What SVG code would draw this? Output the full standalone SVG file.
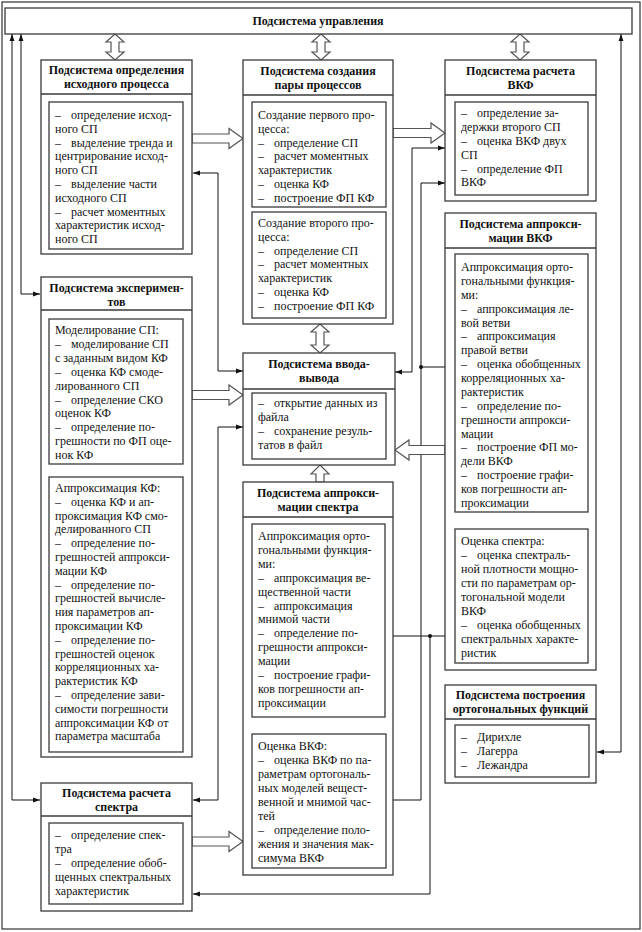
<svg xmlns="http://www.w3.org/2000/svg" width="642" height="932" viewBox="0 0 642 932">
<style>
.bg{fill:#fff}
.frame{fill:none;stroke:#333;stroke-width:1.2}
.box{fill:#fff;stroke:#3a3a3a;stroke-width:1.3}
.div{stroke:#3a3a3a;stroke-width:1.3}
.t{font-family:"Liberation Serif","Times New Roman",serif;font-size:12px;fill:#111}
.h{font-weight:bold;text-anchor:middle}
.ln{fill:none;stroke:#111;stroke-width:1}
.ha{fill:#fff;stroke:#555;stroke-width:1.2}
</style>
<defs>
<marker id="a" viewBox="0 0 10 10" refX="10" refY="5" markerWidth="8" markerHeight="7" markerUnits="userSpaceOnUse" orient="auto-start-reverse"><path d="M0,1.5 L10,5 L0,8.5 z" fill="#111"/></marker>
</defs>
<rect class="bg" x="0" y="0" width="642" height="932"/>
<rect class="frame" x="2" y="2" width="638" height="927"/>

<g id="connectors">
<polyline class="ln" points="40,800 12,800 12,34" marker-start="url(#a)" marker-end="url(#a)"/>
<polyline class="ln" points="40,294 21,294 21,34" marker-start="url(#a)" marker-end="url(#a)"/>
<polyline class="ln" points="597,752 621,752 621,34" marker-start="url(#a)" marker-end="url(#a)"/>
<polyline class="ln" points="193,173 218,173 218,371 243,371" marker-start="url(#a)" marker-end="url(#a)"/>
<polyline class="ln" points="243,427 218,427 218,800 193,800" marker-start="url(#a)" marker-end="url(#a)"/>
<polyline class="ln" points="445,148 412,148 412,372 395,372" marker-start="url(#a)" marker-end="url(#a)"/>
<polyline class="ln" points="386,800 421,800 421,183 445,183" marker-end="url(#a)"/>
<polyline class="ln" points="421,367 454,367" marker-end="url(#a)"/>
<circle cx="421" cy="367" r="2" fill="#111"/>
<polyline class="ln" points="455,636 386,636" marker-end="url(#a)"/>
<polyline class="ln" points="430,636 430,894 193,894" marker-end="url(#a)"/>
<circle cx="430" cy="636" r="2" fill="#111"/>
<polyline class="ln" points="520,512 520,529" marker-end="url(#a)"/>
<polyline class="ln" points="318,717 318,734" marker-end="url(#a)"/>
<polygon class="ha" points="192,134 229,134 229,128.5 243,138.5 229,148.5 229,143 192,143"/>
<polygon class="ha" points="393,128.5 431,128.5 431,123 445,133 431,143 431,137.5 393,137.5"/>
<polygon class="ha" points="192,390.5 229,390.5 229,385 243,395 229,405 229,399.5 192,399.5"/>
<polygon class="ha" points="192,837 229,837 229,831.5 243,841.5 229,851.5 229,846 192,846"/>
<polygon class="ha" points="445,445.5 409,445.5 409,440 395,450 409,460 409,454.5 445,454.5"/>
<polygon class="ha" points="115,34 124,42 119,42 119,52 124,52 115,60 106,52 111,52 111,42 106,42"/>
<polygon class="ha" points="321,34 330,42 325,42 325,52 330,52 321,60 312,52 317,52 317,42 312,42"/>
<polygon class="ha" points="520,34 529,42 524,42 524,52 529,52 520,60 511,52 516,52 516,42 511,42"/>
<polygon class="ha" points="320,324 329,332 324,332 324,345 329,345 320,353 311,345 316,345 316,332 311,332"/>
<polygon class="ha" points="320,465 329,474 324,474 324,482 316,482 316,474 311,474"/>
</g>

<g id="n0">
<rect class="box" x="5" y="8" width="627" height="26"/>
<text class="t h" x="318" y="25">Подсистема управления</text>
</g>

<g id="n1">
<rect class="box" x="41" y="60" width="151" height="194"/>
<line class="div" x1="41" y1="94" x2="192" y2="94"/>
<text class="t h" x="116.5" y="74">Подсистема определения</text>
<text class="t h" x="116.5" y="88">исходного процесса</text>
<rect class="box" x="49" y="102" width="134" height="147"/>
<text class="t" y="119"><tspan x="55">–</tspan><tspan x="71">определение исход-</tspan></text>
<text class="t" x="55" y="132.8">ного СП</text>
<text class="t" y="146.6"><tspan x="55">–</tspan><tspan x="71">выделение тренда и</tspan></text>
<text class="t" x="55" y="160.4">центрирование исход-</text>
<text class="t" x="55" y="174.2">ного СП</text>
<text class="t" y="188"><tspan x="55">–</tspan><tspan x="71">выделение части</tspan></text>
<text class="t" x="55" y="201.8">исходного СП</text>
<text class="t" y="215.6"><tspan x="55">–</tspan><tspan x="71">расчет моментных</tspan></text>
<text class="t" x="55" y="229.4">характеристик исход-</text>
<text class="t" x="55" y="243.2">ного СП</text>
</g>

<g id="n2">
<rect class="box" x="243" y="60" width="150" height="264"/>
<line class="div" x1="243" y1="95" x2="393" y2="95"/>
<text class="t h" x="318" y="75">Подсистема создания</text>
<text class="t h" x="318" y="89">пары процессов</text>
<rect class="box" x="252" y="102" width="134" height="105"/>
<text class="t" x="258" y="119">Создание первого про-</text>
<text class="t" x="258" y="132.8">цесса:</text>
<text class="t" y="146.6"><tspan x="258">–</tspan><tspan x="274">определение СП</tspan></text>
<text class="t" y="160.4"><tspan x="258">–</tspan><tspan x="274">расчет моментных</tspan></text>
<text class="t" x="258" y="174.2">характеристик</text>
<text class="t" y="188"><tspan x="258">–</tspan><tspan x="274">оценка КФ</tspan></text>
<text class="t" y="201.8"><tspan x="258">–</tspan><tspan x="274">построение ФП КФ</tspan></text>
<rect class="box" x="252" y="212" width="134" height="106"/>
<text class="t" x="258" y="227">Создание второго про-</text>
<text class="t" x="258" y="240.8">цесса:</text>
<text class="t" y="254.6"><tspan x="258">–</tspan><tspan x="274">определение СП</tspan></text>
<text class="t" y="268.4"><tspan x="258">–</tspan><tspan x="274">расчет моментных</tspan></text>
<text class="t" x="258" y="282.2">характеристик</text>
<text class="t" y="296"><tspan x="258">–</tspan><tspan x="274">оценка КФ</tspan></text>
<text class="t" y="309.8"><tspan x="258">–</tspan><tspan x="274">построение ФП КФ</tspan></text>
</g>

<g id="n3">
<rect class="box" x="445" y="60" width="151" height="141"/>
<line class="div" x1="445" y1="95" x2="596" y2="95"/>
<text class="t h" x="520.5" y="75">Подсистема расчета</text>
<text class="t h" x="520.5" y="89">ВКФ</text>
<rect class="box" x="455" y="102" width="133" height="93"/>
<text class="t" y="117"><tspan x="461">–</tspan><tspan x="477">определение за-</tspan></text>
<text class="t" x="461" y="131">держки второго СП</text>
<text class="t" y="145"><tspan x="461">–</tspan><tspan x="477">оценка ВКФ двух</tspan></text>
<text class="t" x="461" y="159">СП</text>
<text class="t" y="172.5"><tspan x="461">–</tspan><tspan x="477">определение ФП</tspan></text>
<text class="t" x="461" y="186">ВКФ</text>
</g>

<g id="n4">
<rect class="box" x="445" y="213" width="151" height="457"/>
<line class="div" x1="445" y1="248" x2="596" y2="248"/>
<text class="t h" x="520.5" y="228">Подсистема аппрокси-</text>
<text class="t h" x="520.5" y="242">мации ВКФ</text>
<rect class="box" x="455" y="254" width="133" height="258"/>
<text class="t" x="461" y="271">Аппроксимация орто-</text>
<text class="t" x="461" y="284.9">гональными функция-</text>
<text class="t" x="461" y="298.8">ми:</text>
<text class="t" y="312.6"><tspan x="461">–</tspan><tspan x="477">аппроксимация ле-</tspan></text>
<text class="t" x="461" y="326.5">вой ветви</text>
<text class="t" y="340.4"><tspan x="461">–</tspan><tspan x="477">аппроксимация</tspan></text>
<text class="t" x="461" y="354.3">правой ветви</text>
<text class="t" y="368.2"><tspan x="461">–</tspan><tspan x="477">оценка обобщенных</tspan></text>
<text class="t" x="461" y="382">корреляционных ха-</text>
<text class="t" x="461" y="395.9">рактеристик</text>
<text class="t" y="409.8"><tspan x="461">–</tspan><tspan x="477">определение по-</tspan></text>
<text class="t" x="461" y="423.7">грешности аппрокси-</text>
<text class="t" x="461" y="437.6">мации</text>
<text class="t" y="451.4"><tspan x="461">–</tspan><tspan x="477">построение ФП мо-</tspan></text>
<text class="t" x="461" y="465.3">дели ВКФ</text>
<text class="t" y="479.2"><tspan x="461">–</tspan><tspan x="477">построение графи-</tspan></text>
<text class="t" x="461" y="493.1">ков погрешности ап-</text>
<text class="t" x="461" y="507">проксимации</text>
<rect class="box" x="455" y="529" width="133" height="134"/>
<text class="t" x="461" y="545">Оценка спектра:</text>
<text class="t" y="559"><tspan x="461">–</tspan><tspan x="477">оценка спектраль-</tspan></text>
<text class="t" x="461" y="573">ной плотности мощно-</text>
<text class="t" x="461" y="587">сти по параметрам ор-</text>
<text class="t" x="461" y="601">тогональной модели</text>
<text class="t" x="461" y="615">ВКФ</text>
<text class="t" y="629"><tspan x="461">–</tspan><tspan x="477">оценка обобщенных</tspan></text>
<text class="t" x="461" y="643">спектральных характе-</text>
<text class="t" x="461" y="657">ристик</text>
</g>

<g id="n5">
<rect class="box" x="445" y="685" width="151" height="98"/>
<line class="div" x1="445" y1="719" x2="596" y2="719"/>
<text class="t h" x="520.5" y="699">Подсистема построения</text>
<text class="t h" x="520.5" y="713">ортогональных функций</text>
<rect class="box" x="455" y="725" width="134" height="52"/>
<text class="t" y="741"><tspan x="461">–</tspan><tspan x="477">Дирихле</tspan></text>
<text class="t" y="755"><tspan x="461">–</tspan><tspan x="477">Лагерра</tspan></text>
<text class="t" y="769"><tspan x="461">–</tspan><tspan x="477">Лежандра</tspan></text>
</g>

<g id="n6">
<rect class="box" x="41" y="277" width="151" height="480"/>
<line class="div" x1="41" y1="310" x2="192" y2="310"/>
<text class="t h" x="116.5" y="292">Подсистема эксперимен-</text>
<text class="t h" x="116.5" y="306">тов</text>
<rect class="box" x="49" y="319" width="134" height="145"/>
<text class="t" x="55" y="334">Моделирование СП:</text>
<text class="t" y="347.9"><tspan x="55">–</tspan><tspan x="71">моделирование СП</tspan></text>
<text class="t" x="55" y="361.8">с заданным видом КФ</text>
<text class="t" y="375.7"><tspan x="55">–</tspan><tspan x="71">оценка КФ смоде-</tspan></text>
<text class="t" x="55" y="389.6">лированного СП</text>
<text class="t" y="403.5"><tspan x="55">–</tspan><tspan x="71">определение СКО</tspan></text>
<text class="t" x="55" y="417.4">оценок КФ</text>
<text class="t" y="431.3"><tspan x="55">–</tspan><tspan x="71">определение по-</tspan></text>
<text class="t" x="55" y="445.2">грешности по ФП оце-</text>
<text class="t" x="55" y="459.1">нок КФ</text>
<rect class="box" x="49" y="477" width="134" height="275"/>
<text class="t" x="55" y="492">Аппроксимация КФ:</text>
<text class="t" y="505.8"><tspan x="55">–</tspan><tspan x="71">оценка КФ и ап-</tspan></text>
<text class="t" x="55" y="519.6">проксимация КФ смо-</text>
<text class="t" x="55" y="533.4">делированного СП</text>
<text class="t" y="547.2"><tspan x="55">–</tspan><tspan x="71">определение по-</tspan></text>
<text class="t" x="55" y="561">грешностей аппрокси-</text>
<text class="t" x="55" y="574.8">мации КФ</text>
<text class="t" y="588.6"><tspan x="55">–</tspan><tspan x="71">определение по-</tspan></text>
<text class="t" x="55" y="602.4">грешностей вычисле-</text>
<text class="t" x="55" y="616.2">ния параметров ап-</text>
<text class="t" x="55" y="630">проксимации КФ</text>
<text class="t" y="643.8"><tspan x="55">–</tspan><tspan x="71">определение по-</tspan></text>
<text class="t" x="55" y="657.6">грешностей оценок</text>
<text class="t" x="55" y="671.4">корреляционных ха-</text>
<text class="t" x="55" y="685.2">рактеристик КФ</text>
<text class="t" y="699"><tspan x="55">–</tspan><tspan x="71">определение зави-</tspan></text>
<text class="t" x="55" y="712.8">симости погрешности</text>
<text class="t" x="55" y="726.6">аппроксимации КФ от</text>
<text class="t" x="55" y="740.4">параметра масштаба</text>
</g>

<g id="n7">
<rect class="box" x="243" y="353" width="152" height="112"/>
<line class="div" x1="243" y1="389" x2="395" y2="389"/>
<text class="t h" x="319" y="368">Подсистема ввода-</text>
<text class="t h" x="319" y="382">вывода</text>
<rect class="box" x="252" y="393" width="134" height="66"/>
<text class="t" y="407"><tspan x="258">–</tspan><tspan x="274">открытие данных из</tspan></text>
<text class="t" x="258" y="421">файла</text>
<text class="t" y="435"><tspan x="258">–</tspan><tspan x="274">сохранение резуль-</tspan></text>
<text class="t" x="258" y="449">татов в файл</text>
</g>

<g id="n8">
<rect class="box" x="243" y="482" width="150" height="393"/>
<line class="div" x1="243" y1="517" x2="393" y2="517"/>
<text class="t h" x="318" y="497">Подсистема аппрокси-</text>
<text class="t h" x="318" y="511">мации спектра</text>
<rect class="box" x="252" y="524" width="133" height="193"/>
<text class="t" x="258" y="540">Аппроксимация орто-</text>
<text class="t" x="258" y="553.9">гональными функция-</text>
<text class="t" x="258" y="567.8">ми:</text>
<text class="t" y="581.7"><tspan x="258">–</tspan><tspan x="274">аппроксимация ве-</tspan></text>
<text class="t" x="258" y="595.6">щественной части</text>
<text class="t" y="609.5"><tspan x="258">–</tspan><tspan x="274">аппроксимация</tspan></text>
<text class="t" x="258" y="623.4">мнимой части</text>
<text class="t" y="637.3"><tspan x="258">–</tspan><tspan x="274">определение по-</tspan></text>
<text class="t" x="258" y="651.2">грешности аппрокси-</text>
<text class="t" x="258" y="665.1">мации</text>
<text class="t" y="679"><tspan x="258">–</tspan><tspan x="274">построение графи-</tspan></text>
<text class="t" x="258" y="692.9">ков погрешности ап-</text>
<text class="t" x="258" y="706.8">проксимации</text>
<rect class="box" x="252" y="734" width="134" height="134"/>
<text class="t" x="258" y="750">Оценка ВКФ:</text>
<text class="t" y="764"><tspan x="258">–</tspan><tspan x="274">оценка ВКФ по па-</tspan></text>
<text class="t" x="258" y="778">раметрам ортогональ-</text>
<text class="t" x="258" y="792">ных моделей вещест-</text>
<text class="t" x="258" y="806">венной и мнимой час-</text>
<text class="t" x="258" y="820">тей</text>
<text class="t" y="834"><tspan x="258">–</tspan><tspan x="274">определение поло-</tspan></text>
<text class="t" x="258" y="848">жения и значения мак-</text>
<text class="t" x="258" y="862">симума ВКФ</text>
</g>

<g id="n9">
<rect class="box" x="41" y="783" width="151" height="128"/>
<line class="div" x1="41" y1="816" x2="192" y2="816"/>
<text class="t h" x="116.5" y="797">Подсистема расчета</text>
<text class="t h" x="116.5" y="811">спектра</text>
<rect class="box" x="49" y="823" width="134" height="81"/>
<text class="t" y="839"><tspan x="55">–</tspan><tspan x="71">определение спек-</tspan></text>
<text class="t" x="55" y="852.9">тра</text>
<text class="t" y="866.8"><tspan x="55">–</tspan><tspan x="71">определение обоб-</tspan></text>
<text class="t" x="55" y="880.7">щенных спектральных</text>
<text class="t" x="55" y="894.6">характеристик</text>
</g>
</svg>
